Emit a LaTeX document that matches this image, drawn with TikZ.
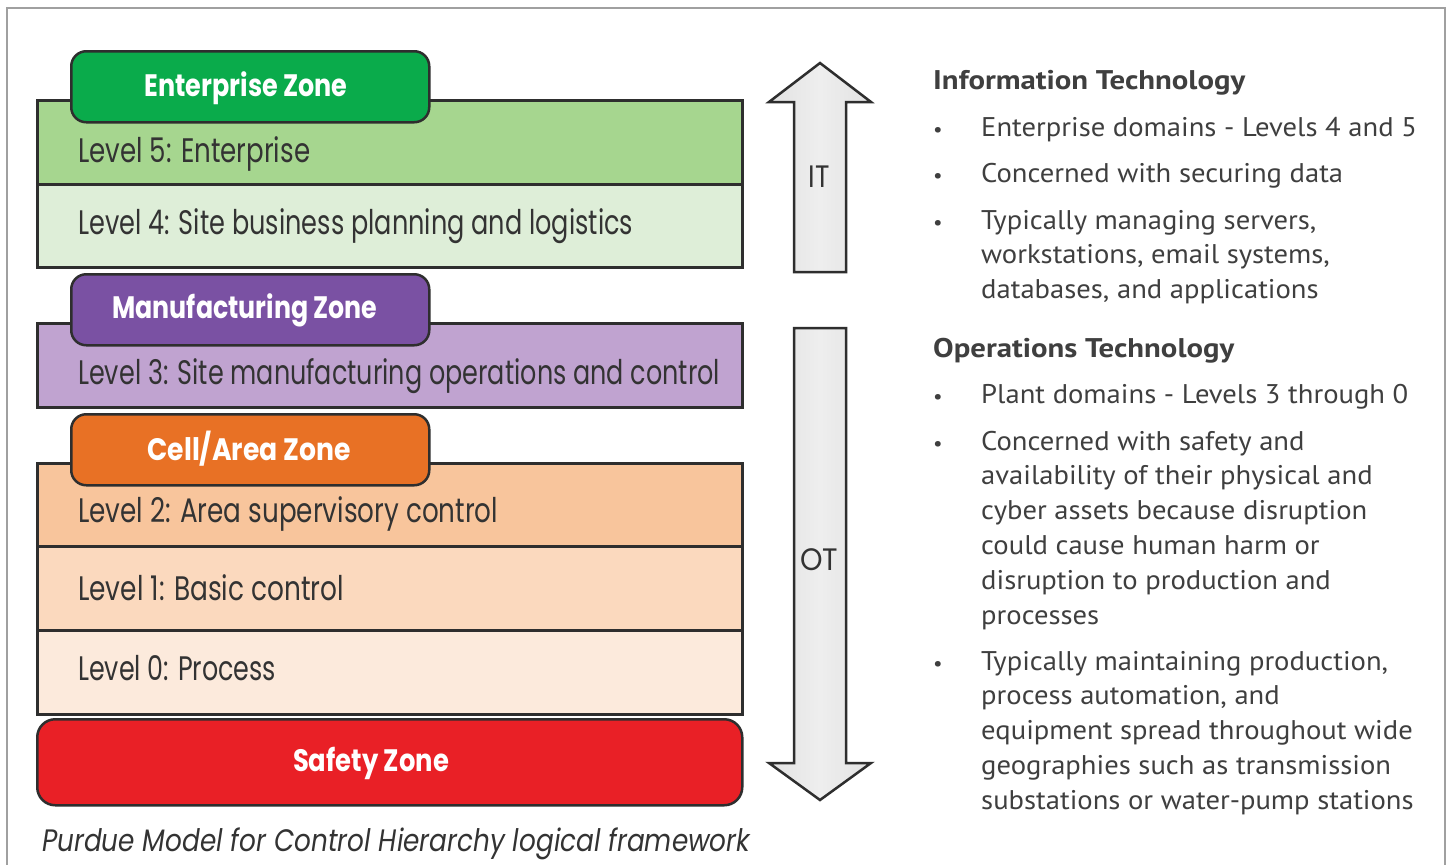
\documentclass[tikz,border=0pt]{standalone}
\usepackage{fontspec}
\usepackage{graphicx}
\setmainfont{PT Sans}
\newfontfamily\fut{Poppins}
\newfontfamily\rfont[FakeStretch=1.06]{PT Sans}
\definecolor{outl}{HTML}{2E2E2E}
\definecolor{txt}{HTML}{333333}
\definecolor{rtxt}{HTML}{3F3F3F}
\definecolor{entz}{HTML}{0AAB4B}
\definecolor{lvfive}{HTML}{A6D68F}
\definecolor{lvfour}{HTML}{DEEED8}
\definecolor{manz}{HTML}{7A51A3}
\definecolor{lvthree}{HTML}{C0A3D0}
\definecolor{cellz}{HTML}{E87125}
\definecolor{lvtwo}{HTML}{F8C59C}
\definecolor{lvone}{HTML}{FBD9BE}
\definecolor{lvzero}{HTML}{FCEADC}
\definecolor{safez}{HTML}{E92026}
\definecolor{arrfill}{HTML}{E2E2E2}
\definecolor{arrmid}{HTML}{EEEEEE}
\definecolor{frame}{HTML}{A0A0A0}
\newcommand{\fitw}[2]{\resizebox{#1}{\height}{#2}}
\tikzset{
  lvbox/.style={draw=outl, line width=2.5pt, minimum width=705pt, anchor=north west, inner sep=0pt},
  zonetab/.style={draw=outl, line width=2.5pt, rounded corners=15pt, minimum width=358pt, minimum height=71pt, anchor=north west, inner sep=0pt},
  lvtxt/.style={anchor=base west, inner sep=0pt, text=txt, font=\fut\fontsize{34}{40}\selectfont},
  zntxt/.style={anchor=base, inner sep=0pt, text=white, font=\fut\bfseries\fontsize{31}{36}\selectfont},
  arrshape/.style={draw=outl, line width=2.5pt, line join=miter, left color=arrfill, right color=arrfill, middle color=arrmid},
  arrtxt/.style={anchor=base, inner sep=0pt, text=txt, font=\fut\fontsize{31}{37}\selectfont},
  rtxtline/.style={anchor=base west, inner sep=0pt, text=rtxt, font=\rfont\fontsize{27}{32}\selectfont},
  rhead/.style={anchor=base west, inner sep=0pt, text=rtxt, font=\rfont\bfseries\fontsize{27}{32}\selectfont},
  bul/.style={anchor=base, inner sep=0pt, text=rtxt, font=\rfont\fontsize{20}{24}\selectfont},
}
\begin{document}
\begin{tikzpicture}[x=1pt, y=-1pt]
\clip (0,0) rectangle (1449,865);
\useasboundingbox (0,0) rectangle (1449,865);
\fill[white] (0,0) rectangle (1449,865);
\draw[frame, line width=1.5pt] (7,8) rectangle (1445,880);

% Enterprise zone
\node[lvbox, fill=lvfive, minimum height=84pt] (l5box) at (36,99) {};
\node[lvbox, fill=lvfour, minimum height=83pt] (l4box) at (36,183) {};
\node[zonetab, fill=entz] (enttab) at (70,50) {};
\node[zntxt] (enttxt) at (246,96) {\fitw{203pt}{Enterprise Zone}};
\node[lvtxt] (l5txt) at (78,162) {\fitw{232pt}{Level 5: Enterprise}};
\node[lvtxt] (l4txt) at (78,234) {\fitw{555pt}{Level 4: Site business planning and logistics}};

% Manufacturing zone
\node[lvbox, fill=lvthree, minimum height=84pt] (l3box) at (36,322) {};
\node[zonetab, fill=manz] (mantab) at (70,273) {};
\node[zntxt] (mantxt) at (245,318) {\fitw{265pt}{Manufacturing Zone}};
\node[lvtxt] (l3txt) at (78,384) {\fitw{642pt}{Level 3: Site manufacturing operations and control}};

% Cell/Area zone
\node[lvbox, fill=lvtwo, minimum height=83pt] (l2box) at (36,462) {};
\node[lvbox, fill=lvone, minimum height=84pt] (l1box) at (36,545) {};
\node[lvbox, fill=lvzero, minimum height=84pt] (l0box) at (36,629) {};
\node[zonetab, fill=cellz] (celltab) at (70,413) {};
\node[zntxt] (celltxt) at (249,460) {\fitw{203pt}{Cell/Area Zone}};
\node[lvtxt] (l2txt) at (78,522) {\fitw{420pt}{Level 2: Area supervisory control}};
\node[lvtxt] (l1txt) at (78,600) {\fitw{266pt}{Level 1: Basic control}};
\node[lvtxt] (l0txt) at (78,680) {\fitw{198pt}{Level 0: Process}};

% Safety zone
\node[draw=outl, line width=2.5pt, rounded corners=18pt, fill=safez, minimum width=705pt, minimum height=86pt, anchor=north west, inner sep=0pt] (safebox) at (36,718) {};
\node[zntxt] (safetxt) at (371,771) {\fitw{156pt}{Safety Zone}};

% caption
\node[anchor=base west, inner sep=0pt, text=txt, font=\fut\itshape\fontsize{31}{36}\selectfont] (caption) at (42,851) {\fitw{708pt}{Purdue Model for Control Hierarchy logical framework}};

% IT / OT arrows
\draw[arrshape] (794,272) -- (794,102) -- (769,102) -- (820,63) -- (871,102) -- (846,102) -- (846,272) -- cycle;
\node[arrtxt] (ittxt) at (819,187) {\fitw{21pt}{IT}};
\draw[arrshape] (794,328) -- (846,328) -- (846,763) -- (871,763) -- (820,800) -- (769,763) -- (794,763) -- cycle;
\node[arrtxt] (ottxt) at (819,570) {\fitw{38pt}{OT}};

% Right text
\node[rhead] (ith) at (933,89) {\fitw{312pt}{Information Technology}};
\node[bul] (bu1) at (938,136) {•};
\node[rtxtline] (t1) at (981,136) {Enterprise domains - Levels 4 and 5};
\node[bul] (bu2) at (938,182) {•};
\node[rtxtline] (t2) at (981,182) {Concerned with securing data};
\node[bul] (bu3) at (938,229) {•};
\node[rtxtline] (t3a) at (981,229) {Typically managing servers,};
\node[rtxtline] (t3b) at (981,263.8) {workstations, email systems,};
\node[rtxtline] (t3c) at (981,298.6) {databases, and applications};

\node[rhead] (oth) at (933,357) {\fitw{301pt}{Operations Technology}};
\node[bul] (bu4) at (938,403) {•};
\node[rtxtline] (t4) at (981,403) {Plant domains - Levels 3 through 0};
\node[bul] (bu5) at (938,450) {•};
\node[rtxtline] (t5a) at (981,450) {Concerned with safety and};
\node[rtxtline] (t5b) at (981,484.8) {availability of their physical and};
\node[rtxtline] (t5c) at (981,519.6) {cyber assets because disruption};
\node[rtxtline] (t5d) at (981,554.4) {could cause human harm or};
\node[rtxtline] (t5e) at (981,589.2) {disruption to production and};
\node[rtxtline] (t5f) at (981,624) {processes};
\node[bul] (bu6) at (938,670) {•};
\node[rtxtline] (t6a) at (981,670) {Typically maintaining production,};
\node[rtxtline] (t6b) at (981,704.8) {process automation, and};
\node[rtxtline] (t6c) at (981,739.6) {equipment spread throughout wide};
\node[rtxtline] (t6d) at (981,774.4) {geographies such as transmission};
\node[rtxtline] (t6e) at (981,809.2) {substations or water-pump stations};
\end{tikzpicture}
\end{document}
